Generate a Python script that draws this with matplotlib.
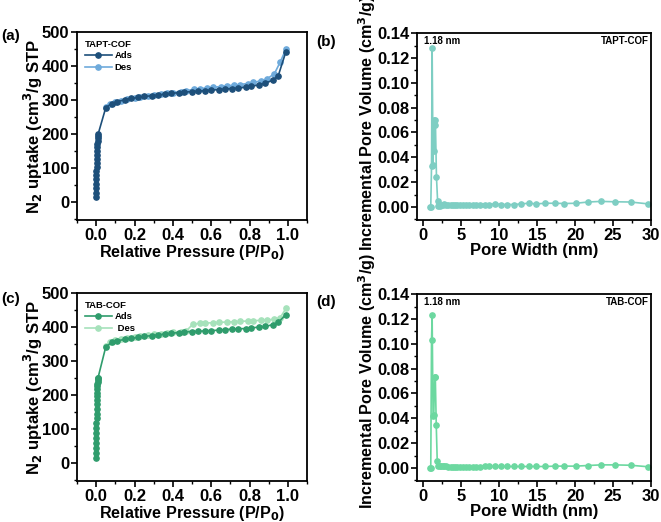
import numpy as np
import matplotlib
matplotlib.use('Agg')
import matplotlib.pyplot as plt
from matplotlib.ticker import MultipleLocator

plt.rcParams['font.family'] = ['Liberation Sans', 'DejaVu Sans']
plt.rcParams['font.weight'] = 'bold'
plt.rcParams['axes.labelweight'] = 'bold'
plt.rcParams['mathtext.default'] = 'bf'

# TAPT-COF isotherm
tapt_ads_p = [0.0001, 0.0002, 0.0004, 0.0006, 0.0009, 0.0012, 0.0016, 0.002, 0.0025, 0.003,
              0.0036, 0.0043, 0.005, 0.006, 0.007, 0.008, 0.009, 0.01,
              0.05, 0.08, 0.11, 0.15, 0.18, 0.22, 0.25, 0.29, 0.32, 0.36, 0.39, 0.43, 0.46,
              0.50, 0.53, 0.57, 0.60, 0.64, 0.67, 0.71, 0.74, 0.78, 0.81, 0.85, 0.88, 0.92,
              0.95, 0.99]
tapt_ads_v = [15, 28, 42, 55, 68, 80, 92, 104, 116, 128,
              140, 152, 163, 172, 180, 188, 195, 200,
              278, 290, 296, 301, 305, 308, 311, 313, 315, 318, 320, 322, 324,
              325, 327, 328, 330, 331, 333, 334, 336, 338, 341, 345, 350, 358,
              372, 443]
tapt_des_p = [0.99, 0.96, 0.93, 0.89, 0.86, 0.82, 0.79, 0.75, 0.72, 0.68, 0.65, 0.61,
              0.58, 0.54, 0.51, 0.47, 0.44, 0.40, 0.37, 0.34, 0.30, 0.27, 0.23, 0.20,
              0.16, 0.13, 0.10, 0.07, 0.05]
tapt_des_v = [450, 412, 378, 362, 357, 352, 349, 346, 344, 342, 340, 338,
              336, 334, 332, 328, 325, 322, 320, 318, 316, 313, 310, 307,
              303, 299, 295, 289, 281]

# TAB-COF isotherm
tab_ads_p = [0.0001, 0.0002, 0.0003, 0.0005, 0.0007, 0.0009, 0.0012, 0.0015, 0.0018, 0.0022,
             0.0026, 0.003, 0.0035, 0.004, 0.0046, 0.0053, 0.006, 0.0068, 0.0076, 0.0085,
             0.0093, 0.01,
             0.05, 0.08, 0.11, 0.15, 0.18, 0.22, 0.25, 0.29, 0.32, 0.36, 0.39, 0.43, 0.46,
             0.50, 0.53, 0.57, 0.60, 0.64, 0.67, 0.71, 0.74, 0.78, 0.81, 0.85, 0.88, 0.92,
             0.95, 0.99]
tab_ads_v = [15, 30, 45, 60, 75, 90, 105, 118, 132, 146,
             160, 173, 186, 198, 208, 218, 226, 234, 240, 246,
             250, 252,
             342, 355, 360, 364, 367, 370, 373, 375, 377, 380, 382, 384, 386,
             387, 388, 389, 390, 391, 393, 394, 395, 396, 398, 400, 402, 407,
             414, 437]
tab_des_p = [0.99, 0.96, 0.93, 0.89, 0.86, 0.82, 0.79, 0.75, 0.72, 0.68, 0.64, 0.61,
             0.57, 0.54, 0.505, 0.47, 0.44, 0.40, 0.37, 0.34, 0.30, 0.27, 0.23, 0.20,
             0.16, 0.13, 0.10, 0.07, 0.05]
tab_des_v = [455, 428, 423, 421, 420, 419, 418, 417, 416, 415, 414, 413,
             412, 411, 409, 389, 387, 385, 384, 381, 379, 377, 375, 372,
             369, 365, 361, 355, 344]

# Pore size distributions
tapt_w = [0.9, 1.0, 1.1, 1.18, 1.3, 1.4, 1.45, 1.55, 1.62, 1.75, 1.9, 2.0, 2.2, 2.4, 2.6,
          2.8, 3.0, 3.3, 3.6, 3.9, 4.2, 4.5, 4.8, 5.2, 5.6, 6.0, 6.5, 7.0, 7.5, 8.1, 8.7,
          9.4, 10.2, 11.1, 12.0, 12.9, 13.9, 14.9, 16.1, 17.3, 18.6, 20.1, 21.7, 23.4,
          25.2, 27.3, 29.6, 31.5]
tapt_dv = [0.0, 0.0, 0.033, 0.128, 0.034, 0.070, 0.045, 0.070, 0.066, 0.024, 0.005, 0.001,
           0.001, 0.002, 0.002, 0.0025, 0.002, 0.0015, 0.0015, 0.0015, 0.0015, 0.0015,
           0.0015, 0.0015, 0.0018, 0.0018, 0.0015, 0.0015, 0.0015, 0.002, 0.002, 0.0025,
           0.002, 0.002, 0.002, 0.0025, 0.003, 0.0025, 0.003, 0.003, 0.0028, 0.003,
           0.004, 0.0045, 0.0042, 0.004, 0.0025, 0.004]
tab_w = [0.9, 1.0, 1.1, 1.18, 1.3, 1.4, 1.5, 1.6, 1.72, 1.85, 2.0, 2.2, 2.4, 2.6,
         2.8, 3.0, 3.3, 3.6, 3.9, 4.2, 4.5, 4.8, 5.2, 5.6, 6.0, 6.5, 7.0, 7.5, 8.1, 8.7,
         9.4, 10.2, 11.1, 12.0, 12.9, 13.9, 14.9, 16.1, 17.3, 18.6, 20.1, 21.7, 23.4,
         25.2, 27.3, 29.6, 31.5]
tab_dv = [0.0, 0.0, 0.103, 0.123, 0.042, 0.043, 0.073, 0.073, 0.035, 0.006, 0.0015, 0.0015,
          0.002, 0.0015, 0.0015, 0.0012, 0.001, 0.001, 0.001, 0.001, 0.001, 0.001, 0.001,
          0.001, 0.001, 0.001, 0.001, 0.001, 0.0012, 0.0012, 0.0012, 0.0012, 0.0012,
          0.0012, 0.0012, 0.0012, 0.0012, 0.0012, 0.0015, 0.0015, 0.0015, 0.002,
          0.0025, 0.0025, 0.0022, 0.001, 0.002]

fig = plt.figure(figsize=(6.61, 5.22), dpi=100)
ax_a = fig.add_axes([0.1165, 0.5785, 0.348, 0.360])
ax_b = fig.add_axes([0.631, 0.5785, 0.354, 0.358])
ax_c = fig.add_axes([0.1165, 0.0785, 0.348, 0.360])
ax_d = fig.add_axes([0.631, 0.0785, 0.354, 0.358])

FS = 12


def style(ax):
    for s in ax.spines.values():
        s.set_linewidth(1.3)
    ax.tick_params(which='major', direction='out', length=4, width=1.2, labelsize=FS,
                   top=False, right=False, pad=1.5)
    ax.tick_params(which='minor', direction='out', length=2, width=1.0, top=False, right=False)


def isotherm(ax, ap, av, dp, dv, c_ads, c_des, name, des_label):
    ax.plot(ap, av, '-o', color=c_ads, ms=3.8, lw=1.2, label='Ads', zorder=3)
    ax.plot(dp, dv, '-o', color=c_des, ms=3.8, lw=1.2, label=des_label, zorder=2)
    ax.set_xlim(-0.1, 1.1)
    ax.set_ylim(-52, 500)
    ax.xaxis.set_minor_locator(MultipleLocator(0.1))
    ax.yaxis.set_minor_locator(MultipleLocator(50))
    ax.set_xticks(np.arange(0, 1.01, 0.2))
    ax.set_xticklabels(['0.0', '0.2', '0.4', '0.6', '0.8', '1.0'])
    ax.set_yticks([0, 100, 200, 300, 400, 500])
    ax.set_xlabel('Relative Pressure (P/P$_0$)', fontsize=11.6, labelpad=0)
    ax.set_ylabel('N$_2$ uptake (cm$^3$/g STP', fontsize=FS, labelpad=-2)
    leg = ax.legend(loc='upper left', title=name, frameon=False, fontsize=6.8,
                    title_fontproperties={'weight': 'bold', 'size': 6.8},
                    handlelength=2.9, handletextpad=0.3, labelspacing=0.3,
                    borderaxespad=0.4)
    leg._legend_box.align = 'left'
    style(ax)


def psd(ax, w, dv, color, name, label_y):
    ax.plot(w, dv, '-o', color=color, ms=3.8, lw=1.2, clip_on=True)
    ax.set_xlim(-0.8, 30)
    ax.set_ylim(-0.0105, 0.14)
    ax.xaxis.set_major_locator(MultipleLocator(5))
    ax.xaxis.set_minor_locator(MultipleLocator(2.5))
    ax.set_yticks(np.arange(0, 0.141, 0.02))
    ax.yaxis.set_minor_locator(MultipleLocator(0.01))
    ax.set_yticklabels([f'{v:.2f}' for v in np.arange(0, 0.141, 0.02)])
    ax.set_xlabel('Pore Width (nm)', fontsize=FS, labelpad=0)
    ax.set_ylabel('Incremental Pore Volume (cm$^3$/g)', fontsize=11.6)
    ax.yaxis.set_label_coords(-0.165, label_y)
    ax.text(0.03, 0.985, '1.18 nm', transform=ax.transAxes, fontsize=7,
            fontweight='bold', ha='left', va='top')
    ax.text(0.99, 0.985, name, transform=ax.transAxes, fontsize=7,
            fontweight='bold', ha='right', va='top')
    style(ax)


isotherm(ax_a, tapt_ads_p, tapt_ads_v, tapt_des_p, tapt_des_v,
         '#1d4f7a', '#6eaadb', 'TAPT-COF', 'Des')
isotherm(ax_c, tab_ads_p, tab_ads_v, tab_des_p, tab_des_v,
         '#2f9c6c', '#a6e2bb', 'TAB-COF', ' Des')
psd(ax_b, tapt_w, tapt_dv, '#7ecec3', 'TAPT-COF', 0.52)
psd(ax_d, tab_w, tab_dv, '#6cd8a0', 'TAB-COF', 0.535)

for lab, x, y in [('(a)', 0.002, 0.931), ('(b)', 0.479, 0.919),
                  ('(c)', 0.002, 0.428), ('(d)', 0.479, 0.421)]:
    fig.text(x, y, lab, fontsize=11, fontweight='bold', ha='left', va='center')

fig.savefig('out.png', dpi=100)
